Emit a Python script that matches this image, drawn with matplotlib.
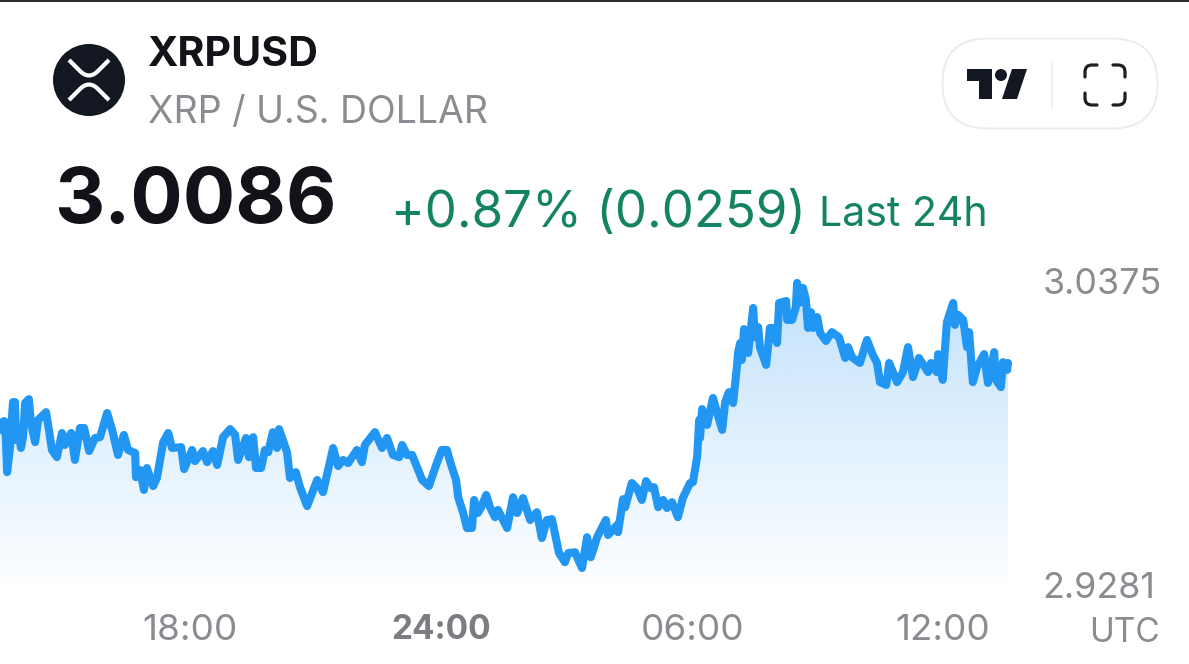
import matplotlib
matplotlib.use('Agg')
import matplotlib.pyplot as plt
import numpy as np
from matplotlib.patches import Circle, FancyBboxPatch, Polygon, PathPatch
from matplotlib.path import Path

# time in hours from midnight of the first day (30 = 06:00 next day)
hours_a = [13.46, 13.51, 13.56, 13.60, 13.63, 13.70, 13.77, 13.82, 13.84, 13.89, 13.96, 14.01, 14.06, 14.15, 14.20,
           14.30, 14.37, 14.56, 14.63, 14.70, 14.82, 14.94, 15.01, 15.16, 15.25, 15.37, 15.47, 15.59, 15.73, 15.85,
           16.02, 16.14, 16.28, 16.42, 16.52, 16.69, 16.71, 16.81, 16.90, 16.97, 17.12, 17.21, 17.36, 17.48, 17.57,
           17.79, 17.86, 18.05, 18.12, 18.31, 18.41, 18.55, 18.65, 18.79, 18.96, 19.08, 19.15, 19.34, 19.41, 19.51,
           19.58, 19.70, 19.79, 19.87, 19.98, 20.08, 20.13, 20.32, 20.39, 20.53, 20.63, 20.80, 21.04, 21.18, 21.42,
           21.54, 21.66, 21.78, 21.83, 21.99, 22.11, 22.18, 22.42, 22.59, 22.71, 22.85, 23.00, 23.07, 23.19, 23.31,
           23.55, 23.71, 23.90]
prices_a = [2.9839, 2.9867, 2.9871, 2.9810, 2.9687, 2.9777, 2.9939, 2.9939, 2.9803, 2.9849, 2.9774, 2.9813, 2.9936, 2.9950, 2.9864,
            2.9795, 2.9875, 2.9903, 2.9839, 2.9767, 2.9741, 2.9828, 2.9785, 2.9828, 2.9731, 2.9846, 2.9846, 2.9763, 2.9810, 2.9813,
            2.9900, 2.9839, 2.9749, 2.9821, 2.9767, 2.9756, 2.9669, 2.9695, 2.9623, 2.9702, 2.9637, 2.9666, 2.9795, 2.9828, 2.9774,
            2.9777, 2.9698, 2.9767, 2.9727, 2.9763, 2.9723, 2.9763, 2.9713, 2.9813, 2.9842, 2.9821, 2.9731, 2.9810, 2.9741, 2.9813,
            2.9702, 2.9702, 2.9767, 2.9759, 2.9831, 2.9774, 2.9842, 2.9759, 2.9666, 2.9687, 2.9633, 2.9565, 2.9659, 2.9615, 2.9774,
            2.9709, 2.9731, 2.9720, 2.9731, 2.9767, 2.9723, 2.9785, 2.9831, 2.9774, 2.9810, 2.9749, 2.9741, 2.9785, 2.9749, 2.9749,
            2.9659, 2.9637, 2.9720]

hours_b = [24.02, 24.14, 24.22, 24.36, 24.41, 24.53, 24.62, 24.74, 24.79, 24.88, 24.96, 25.08, 25.17, 25.29, 25.36,
           25.58, 25.72, 25.82, 25.96, 26.13, 26.29, 26.41, 26.53, 26.65, 26.82, 26.96, 27.04, 27.20, 27.37, 27.49,
           27.58, 27.73, 27.85, 27.94, 27.99, 28.21, 28.23, 28.35, 28.40, 28.56, 28.68, 28.80, 28.90, 29.00, 29.09,
           29.19, 29.31, 29.40, 29.52, 29.66, 29.78, 29.95]
prices_b = [2.9767, 2.9767, 2.9723, 2.9659, 2.9597, 2.9540, 2.9486, 2.9486, 2.9587, 2.9540, 2.9561, 2.9605, 2.9561, 2.9525, 2.9551,
            2.9486, 2.9597, 2.9540, 2.9594, 2.9515, 2.9543, 2.9450, 2.9515, 2.9518, 2.9396, 2.9363, 2.9396, 2.9399, 2.9342, 2.9453,
            2.9381, 2.9453, 2.9489, 2.9515, 2.9461, 2.9497, 2.9471, 2.9590, 2.9561, 2.9648, 2.9630, 2.9587, 2.9655, 2.9630, 2.9633,
            2.9561, 2.9587, 2.9558, 2.9579, 2.9525, 2.9594, 2.9648]

hours_c = [30.02, 30.12, 30.17, 30.19, 30.24, 30.36, 30.50, 30.60, 30.72, 30.79, 30.88, 30.98, 31.07, 31.10, 31.15,
           31.19, 31.24, 31.34, 31.46, 31.50, 31.58, 31.62, 31.77, 31.86, 31.93, 32.03, 32.08, 32.25, 32.27, 32.39,
           32.48, 32.51, 32.56, 32.65, 32.72, 32.77, 32.84, 32.89, 32.99, 33.06, 33.20, 33.34, 33.51, 33.66, 33.73,
           33.82, 34.01, 34.18, 34.32, 34.42, 34.49, 34.64, 34.71, 34.90, 35.04, 35.16, 35.28, 35.42, 35.64, 35.71,
           35.85, 35.88, 35.99, 36.09, 36.24, 36.28, 36.36, 36.48, 36.57, 36.62, 36.71, 36.81, 36.98, 37.07, 37.22,
           37.26, 37.38, 37.43, 37.53, 37.55]
prices_c = [2.9651, 2.9741, 2.9875, 2.9810, 2.9914, 2.9857, 2.9954, 2.9900, 2.9839, 2.9939, 2.9975, 2.9936, 3.0065, 3.0119, 3.0152,
            3.0091, 3.0202, 3.0116, 3.0278, 3.0173, 3.0209, 3.0137, 3.0073, 3.0206, 3.0206, 3.0152, 3.0296, 3.0303, 3.0235, 3.0235,
            3.0281, 3.0368, 3.0296, 3.0350, 3.0307, 3.0206, 3.0263, 3.0206, 3.0245, 3.0188, 3.0159, 3.0191, 3.0173, 3.0098, 3.0137,
            3.0101, 3.0080, 3.0163, 3.0109, 3.0080, 3.0011, 3.0001, 3.0080, 3.0011, 3.0047, 3.0137, 3.0029, 3.0098, 3.0047, 3.0080,
            3.0047, 3.0112, 3.0019, 3.0227, 3.0296, 3.0217, 3.0253, 3.0235, 3.0137, 3.0191, 3.0011, 3.0065, 3.0112, 3.0008, 3.0119,
            3.0019, 2.9993, 3.0083, 3.0055, 3.0080]

x_ticks = [18, 24, 30, 36]
x_labels = ['18:00', '24:00', '06:00', '12:00']
y_ticks = [2.9281, 3.0375]
y_labels = ['2.9281', '3.0375']

LINE = '#2196f3'
GREEN = '#148363'
GREY = '#8a8c92'
DARK = '#131722'
FONT = 'Inter'
W, H = 1189, 664

hours = np.array(hours_a + hours_b + hours_c)
prices = np.array(prices_a + prices_b + prices_c)

fig = plt.figure(figsize=(W / 100, H / 100), dpi=100, facecolor='white')

# chart axes: 0..1008 px wide, price ticks at y=281 and y=585 px
ax = fig.add_axes([0, 1 - 585 / H, 1008 / W, (585 - 281) / H])
ax.set_xlim(13.46, 37.55)
ax.set_ylim(2.9281, 3.0375)
ax.patch.set_alpha(0)
for s in ax.spines.values():
    s.set_visible(False)

# gradient under the line
grad = np.zeros((256, 1, 4))
grad[..., 0] = 33 / 255
grad[..., 1] = 150 / 255
grad[..., 2] = 243 / 255
grad[..., 3] = np.linspace(0.28, 0.01, 256)[:, None]
im = ax.imshow(grad, extent=(13.46, 37.55, 2.9281, 3.0375), aspect='auto', origin='upper', zorder=1)
poly = ax.fill_between(hours, prices, 2.9281, color='none')
clip = poly.get_paths()[0]
im.set_clip_path(clip, transform=ax.transData)

ax.plot(hours, prices, color=LINE, lw=5.8, solid_joinstyle='round', solid_capstyle='round', clip_on=False, zorder=3)

ax.set_xticks(x_ticks)
ax.set_xticklabels(x_labels, fontsize=26.5, color=GREY, family=FONT)
ax.get_xticklabels()[1].set_fontweight('bold')
ax.get_xticklabels()[1].set_fontsize(24)
ax.get_xticklabels()[1].set_color('#7b7d83')
ax.yaxis.tick_right()
ax.set_yticks(y_ticks)
ax.set_yticklabels(y_labels, fontsize=25.8, color=GREY, family=FONT)
ax.tick_params(axis='both', length=0)
ax.tick_params(axis='x', pad=21)
ax.tick_params(axis='y', pad=25)

# overlay in pixel coordinates for the header
ov = fig.add_axes([0, 0, 1, 1], zorder=5)
ov.set_xlim(0, W)
ov.set_ylim(H, 0)
ov.axis('off')
ov.patch.set_alpha(0)

ov.add_patch(plt.Rectangle((0, 0), W, 2, color='#2f2f2f', lw=0))

# XRP logo
ov.add_patch(Circle((89, 80), 36, color=DARK, lw=0))
for sy in (-1, 1):
    verts = [(69, 80 + sy * 20), (79, 80 + sy * 10), (89, 80 - sy * 1), (99, 80 + sy * 10), (109, 80 + sy * 20)]
    codes = [Path.MOVETO, Path.LINETO, Path.CURVE3, Path.CURVE3, Path.LINETO]
    ov.add_patch(PathPatch(Path(verts, codes), fc='none', ec='white', lw=3, capstyle='butt'))

ov.text(148, 55, 'XRPUSD', fontsize=29.6, fontweight='bold', color='#111318', family=FONT, va='center')
ov.text(148, 113, 'XRP / U.S. DOLLAR', fontsize=27, color=GREY, family=FONT, va='center')
ov.text(54, 202, '3.0086', fontsize=56, fontweight='bold', color='#111318', family=FONT, va='center')
ov.text(391, 213, '+0.87% (0.0259)', fontsize=36.7, color=GREEN, family=FONT, va='center')
ov.text(819, 215, 'Last 24h', fontsize=29.6, color=GREEN, family=FONT, va='center')
ov.text(1160, 633, 'UTC', fontsize=24, color=GREY, family=FONT, va='center', ha='right')

# pill with the tradingview and fullscreen icons
ov.add_patch(FancyBboxPatch((942.5, 38.5), 215, 90, boxstyle='round,pad=0,rounding_size=45', fc='white', ec='#ececec', lw=1.4))
ov.plot([1052, 1052], [62, 108], color='#ececec', lw=1.2)
ov.add_patch(Polygon([(967, 69), (992, 69), (992, 99), (979, 99), (979, 81), (967, 81)], color=DARK, lw=0))
ov.add_patch(Circle((1001, 75), 6, color=DARK, lw=0))
ov.add_patch(Polygon([(1012, 69), (1027, 69), (1017, 99), (1002, 99)], color=DARK, lw=0))
for cx, cy, dx, dy in [(1085, 65, 1, 1), (1125, 65, -1, 1), (1085, 105, 1, -1), (1125, 105, -1, -1)]:
    verts = [(cx, cy + dy * 12), (cx, cy + dy * 7), (cx, cy), (cx + dx * 7, cy), (cx + dx * 12, cy)]
    codes = [Path.MOVETO, Path.LINETO, Path.CURVE3, Path.CURVE3, Path.LINETO]
    ov.add_patch(PathPatch(Path(verts, codes), fc='none', ec='#1c1f26', lw=2.3, capstyle='round'))

fig.savefig('out.png', dpi=100)
